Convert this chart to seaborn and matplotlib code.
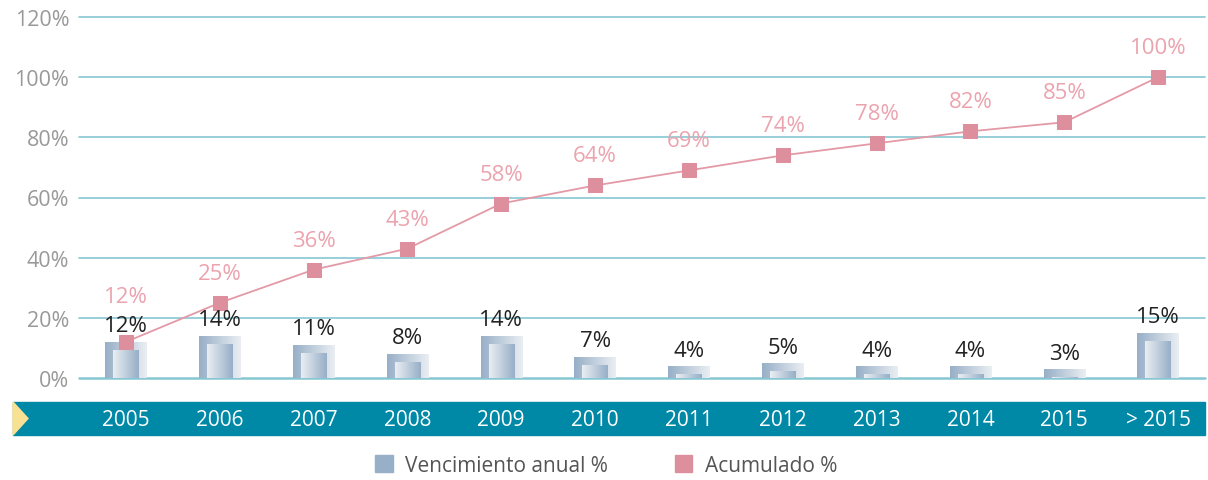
import numpy as np
import pandas as pd
import matplotlib
matplotlib.use("Agg")
import matplotlib.pyplot as plt
from matplotlib.patches import Rectangle, Polygon
from matplotlib.colors import LinearSegmentedColormap
import seaborn as sns

# data
years = ["2005", "2006", "2007", "2008", "2009", "2010", "2011", "2012",
         "2013", "2014", "2015", "> 2015"]
annual = [12, 14, 11, 8, 14, 7, 4, 5, 4, 4, 3, 15]
cumulative = [12, 25, 36, 43, 58, 64, 69, 74, 78, 82, 85, 100]
y_ticks = [0, 20, 40, 60, 80, 100, 120]

df = pd.DataFrame({"year": years, "annual": annual, "cumulative": cumulative})
df["inner"] = df["annual"] - 2.6

sns.set_style("white")
plt.rcParams["font.family"] = ["Open Sans", "DejaVu Sans"]

bar_dark = "#97afc7"
bar_light = "#eaeef3"
pink = "#de8f9d"
pink_text = "#eba3ae"
grid_col = "#86c7d3"
band_col = "#0089a7"

fig = plt.figure(figsize=(12.08, 4.81), dpi=100)
ax = fig.add_axes([79 / 1208, 1 - 379 / 481, (1205 - 79) / 1208, (379 - 18) / 481])

# grid lines
for t in y_ticks:
    ax.axhline(t, color=grid_col, lw=1.8 if t == 0 else 1.2, zorder=0, clip_on=False)

# bars (outer + inner), gradient fill clipped to each bar
sns.barplot(data=df, x="year", y="annual", color=bar_dark, width=0.44,
            ax=ax, zorder=2, linewidth=0)
n_outer = len(ax.patches)
sns.barplot(data=df, x="year", y="inner", color=bar_light, width=0.27,
            ax=ax, zorder=3, linewidth=0)

grad_out = LinearSegmentedColormap.from_list("o", [bar_dark, bar_light])
grad_in = LinearSegmentedColormap.from_list("i", [bar_light, bar_dark])
grad = np.linspace(0, 1, 64).reshape(1, -1)
for i, p in enumerate(ax.patches):
    x0, y0 = p.get_x(), p.get_y()
    w, h = p.get_width(), p.get_height()
    cmap = grad_out if i < n_outer else grad_in
    im = ax.imshow(grad, cmap=cmap, aspect="auto", extent=[x0, x0 + w, y0, y0 + h],
                   zorder=p.get_zorder() + 0.1, interpolation="bilinear")
    im.set_clip_path(p)

# cumulative line
sns.lineplot(data=df, x="year", y="cumulative", color="#e39aa6", lw=1.3,
             marker="s", markersize=9.5, markerfacecolor=pink,
             markeredgecolor=pink, ax=ax, zorder=5, sort=False)

# value labels
for i, (a, c) in enumerate(zip(annual, cumulative)):
    ax.text(i, a + 5.3, f"{a}%", ha="center", va="center", fontsize=16,
            color="#222222", zorder=6)
    off = 15 if i == 0 else 9.8
    ax.text(i, c + off, f"{c}%", ha="center", va="center", fontsize=16,
            color=pink_text, zorder=6)

ax.set_xlim(-0.5, 11.5)
ax.set_ylim(0, 120)
ax.set_yticks(y_ticks)
ax.set_yticklabels([f"{t}%" for t in y_ticks], color="#999999", fontsize=15.5)
ax.tick_params(axis="y", length=0, pad=7)
ax.set_xticks(range(len(years)))
ax.set_xticklabels(years, color="white", fontsize=15)
ax.tick_params(axis="x", length=0, pad=22)
ax.set_xlabel("")
ax.set_ylabel("")
ax.grid(False)
for s in ax.spines.values():
    s.set_visible(False)
ax.patch.set_alpha(0)

# teal band with yellow arrow
fig.patches.append(Rectangle((13 / 1208, 1 - 436 / 481), (1205 - 13) / 1208, 33 / 481,
                             transform=fig.transFigure, color=band_col, zorder=-1))
fig.patches.append(Polygon([(13 / 1208, 1 - 403 / 481), (28 / 1208, 1 - 419.5 / 481),
                            (13 / 1208, 1 - 436 / 481)], closed=True,
                           transform=fig.transFigure, color="#f8e193", zorder=0))

# legend
handles = [Rectangle((0, 0), 1, 1, color=bar_dark), Rectangle((0, 0), 1, 1, color=pink)]
fig.legend(handles, ["Vencimiento anual %", "Acumulado %"], loc="center",
           bbox_to_anchor=(606 / 1208, 1 - 466 / 481), ncol=2, frameon=False,
           fontsize=15, labelcolor="#555555", handlelength=0.85, handleheight=0.85,
           columnspacing=3.2, handletextpad=0.6)

fig.savefig("out.png", dpi=100)
